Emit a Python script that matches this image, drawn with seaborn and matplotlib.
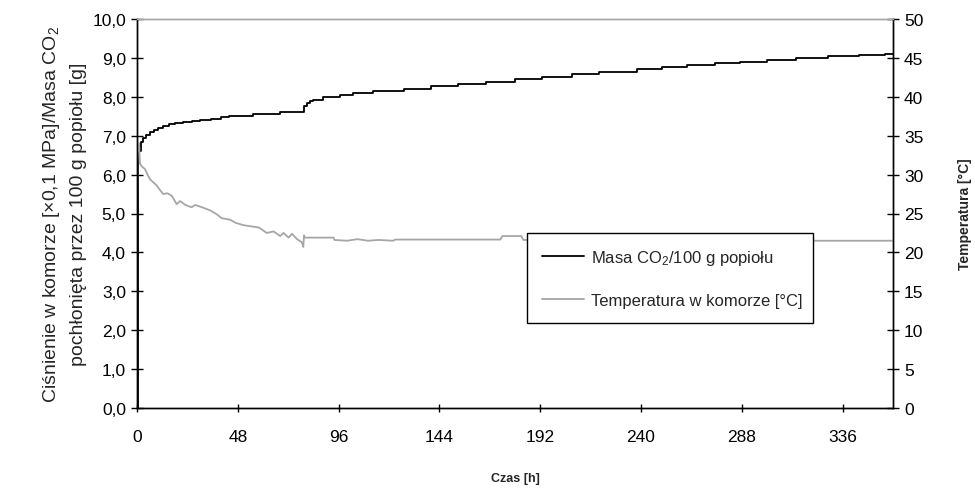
import matplotlib
matplotlib.use("Agg")
import matplotlib.pyplot as plt
import seaborn as sns
import pandas as pd

# ---- data ----
mass_hours = [0, 0.3, 1, 2, 3, 4.5, 6, 8, 10, 12.5, 15, 18, 22, 26, 30, 35, 40, 44,
              49, 55, 60, 68, 79.3, 80.9, 82.5, 84, 88.8, 96.8, 103, 112.6, 127,
              140, 153, 166, 180, 193, 207, 220, 238, 250, 262, 275, 287, 300,
              314, 329, 344, 356, 360]
mass_values = [0.0, 6.3, 6.6, 6.85, 6.95, 7.02, 7.09, 7.15, 7.2, 7.25, 7.29, 7.32,
               7.36, 7.38, 7.41, 7.44, 7.48, 7.5, 7.51, 7.55, 7.57, 7.62, 7.77,
               7.84, 7.88, 7.93, 7.99, 8.05, 8.10, 8.16, 8.2, 8.27, 8.33, 8.39,
               8.46, 8.52, 8.59, 8.65, 8.71, 8.76, 8.82, 8.86, 8.9, 8.95, 8.99,
               9.04, 9.08, 9.11, 9.11]

temp_hours = [0, 0.2, 0.6, 1.0, 1.4, 2.5, 3.8, 5, 6.2, 7.8, 9.4, 11, 12.5, 14.5,
              16.5, 18.9, 20.5, 23, 26, 27.7, 31, 34.8, 38, 40.3, 44.3, 47, 50.7,
              55.5, 58, 61.8, 65, 68.2, 69.8, 72.2, 73.8, 76.2, 78.5, 79.2, 79.5,
              80, 93.6, 94, 100, 105, 110, 115, 122, 123, 173, 174, 183, 184, 300,
              310, 360]
temp_values = [22.1, 34.1, 33.0, 34.0, 31.4, 31.0, 30.7, 30.0, 29.4, 29.0, 28.6,
               28.0, 27.5, 27.6, 27.3, 26.2, 26.6, 26.1, 25.8, 26.1, 25.8, 25.4,
               24.9, 24.4, 24.2, 23.8, 23.5, 23.3, 23.2, 22.5, 22.7, 22.1, 22.5,
               21.9, 22.4, 21.7, 21.3, 20.7, 22.2, 21.9, 21.9, 21.6, 21.5, 21.7,
               21.5, 21.6, 21.5, 21.65, 21.65, 22.1, 22.1, 21.6, 21.6, 21.5, 21.5]

x_ticks = [0, 48, 96, 144, 192, 240, 288, 336]
left_ticks = [0, 1, 2, 3, 4, 5, 6, 7, 8, 9, 10]
right_ticks = [0, 5, 10, 15, 20, 25, 30, 35, 40, 45, 50]

label_mass = "Masa CO$_2$/100 g popiołu"
label_temp = "Temperatura w komorze [°C]"

# ---- style ----
sns.set_style("white")
plt.rcParams["font.family"] = ["Liberation Sans", "DejaVu Sans"]
plt.rcParams["mathtext.fontset"] = "custom"
plt.rcParams["mathtext.rm"] = "Liberation Sans"
plt.rcParams["mathtext.it"] = "Liberation Sans:italic"
plt.rcParams["mathtext.bf"] = "Liberation Sans:bold"

fig = plt.figure(figsize=(9.75, 4.89), dpi=100)
ax = fig.add_axes([137 / 975, 1 - 409 / 489, (893 - 137) / 975, (409 - 20) / 489])
ax2 = ax.twinx()

df_mass = pd.DataFrame({"h": mass_hours, "v": mass_values})
df_temp = pd.DataFrame({"h": temp_hours, "v": temp_values})

GRAY = "#a6a6a6"
sns.lineplot(data=df_mass, x="h", y="v", ax=ax, color="black", lw=1.3,
             estimator=None, sort=False, drawstyle="steps-post", label=label_mass,
             legend=False)
sns.lineplot(data=df_temp, x="h", y="v", ax=ax2, color=GRAY, lw=1.3,
             estimator=None, sort=False, label=label_temp, legend=False)

ax.set_xlim(0, 360)
ax.set_ylim(0, 10)
ax2.set_ylim(0, 50)
ax.set_xticks(x_ticks)
ax.set_xticklabels([str(t) for t in x_ticks])
ax.set_yticks(left_ticks)
ax.set_yticklabels([f"{t:.1f}".replace(".", ",") for t in left_ticks])
ax2.set_yticks(right_ticks)
ax2.set_yticklabels([str(t) for t in right_ticks])

for a in (ax, ax2):
    for s in ("left", "right", "bottom"):
        a.spines[s].set_color("black")
        a.spines[s].set_linewidth(1.0)
    a.spines["top"].set_color(GRAY)
    a.spines["top"].set_linewidth(1.0)

TS = 12.5
ax.tick_params(axis="x", direction="inout", length=6, width=1, colors="black",
               labelsize=TS, pad=12, bottom=True)
ax.tick_params(axis="y", direction="inout", length=8, width=1, colors="black",
               labelsize=TS, pad=4, left=True)
ax2.tick_params(axis="y", direction="inout", length=8, width=1, colors="black",
                labelsize=TS, pad=4, right=True)

ax.set_xlabel("Czas [h]", fontsize=9, fontweight="bold", labelpad=20)
ax.set_ylabel("Ciśnienie w komorze [×0,1 MPa]/Masa CO$_2$\npochłonięta przez 100 g popiołu [g]",
              fontsize=14, labelpad=4, linespacing=1.6)
ax2.set_ylabel("Temperatura [°C]", fontsize=10, fontweight="bold", labelpad=25)

h1, l1 = ax.get_legend_handles_labels()
h2, l2 = ax2.get_legend_handles_labels()
leg = ax2.legend(h1 + h2, l1 + l2, loc="upper left",
                 bbox_to_anchor=(0.516, 0.216, 0.378, 0.234), mode="expand",
                 frameon=True, fancybox=False, edgecolor="black", framealpha=1,
                 fontsize=12, handlelength=2.5, labelspacing=1.55, borderpad=0.9,
                 handletextpad=0.45, borderaxespad=0)
leg.get_frame().set_linewidth(1.0)

fig.savefig("out.png", dpi=100, facecolor="white")
